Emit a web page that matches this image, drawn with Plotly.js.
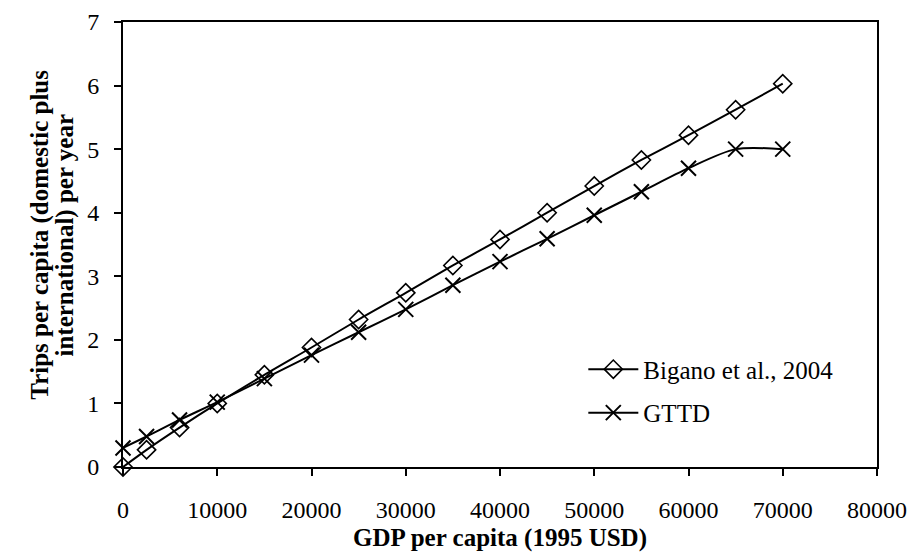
<!DOCTYPE html>
<html>
<head>
<meta charset="utf-8">
<script src="https://cdn.plot.ly/plotly-3.0.1.min.js"></script>
<style>html,body{margin:0;padding:0;background:#fff;}#chart{width:913px;height:552px;}</style>
</head>
<body>
<div id="chart"></div>
<script>
const gdp = [0, 2500, 6000, 10000, 15000, 20000, 25000, 30000, 35000, 40000, 45000, 50000, 55000, 60000, 65000, 70000];
const bigano = [0, 0.27, 0.62, 1.0, 1.45, 1.88, 2.32, 2.74, 3.17, 3.58, 4.0, 4.42, 4.83, 5.22, 5.62, 6.03];
const gttd = [0.3, 0.48, 0.74, 1.02, 1.39, 1.76, 2.12, 2.48, 2.86, 3.23, 3.59, 3.96, 4.33, 4.7, 5.0, 5.0];
const seriesNames = ["Bigano et al., 2004", "GTTD"];
const xTicks = [0, 10000, 20000, 30000, 40000, 50000, 60000, 70000, 80000];
const yTicks = [0, 1, 2, 3, 4, 5, 6, 7];
const yTitleLines = ["Trips per capita (domestic plus", "international) per year"];

const FONT = '"Liberation Serif", "Times New Roman", serif';

const traces = [
  {
    x: gdp, y: bigano, name: seriesNames[0], type: "scatter", mode: "lines+markers",
    legendgroup: "a",
    line: {color: "#000", width: 2, shape: "spline", smoothing: 0.8},
    marker: {symbol: "diamond-open", size: 14, color: "#000", line: {width: 1.6, color: "#000"}},
    cliponaxis: false
  },
  {
    x: gdp, y: gttd, name: seriesNames[1], type: "scatter", mode: "lines+markers",
    legendgroup: "b",
    line: {color: "#000", width: 2, shape: "spline", smoothing: 0.8},
    marker: {symbol: "x-thin-open", size: 15, color: "#000", line: {width: 2, color: "#000"}},
    cliponaxis: false
  }
];

const layout = {
  width: 913, height: 552,
  margin: {l: 123, r: 36, t: 22, b: 85, pad: 0},
  paper_bgcolor: "#fff", plot_bgcolor: "#fff",
  font: {family: FONT, size: 24, color: "#000"},
  showlegend: true,
  legend: {
    x: 0.6105, y: 0.171, xanchor: "left", yanchor: "middle",
    font: {family: FONT, size: 25, color: "#000"},
    bgcolor: "rgba(0,0,0,0)", borderwidth: 0,
    traceorder: "grouped", tracegroupgap: 8,
    itemwidth: 50
  },
  xaxis: {
    range: [0, 80000], tickvals: xTicks, ticktext: xTicks.map(String),
    showgrid: false, zeroline: false,
    showline: true, linecolor: "#000", linewidth: 2, mirror: true,
    ticks: "outside", ticklen: 7, tickwidth: 2, tickcolor: "#000",
    ticklabelstandoff: 13,
    tickfont: {family: FONT, size: 24, color: "#000"},
    title: {text: "<b>GDP per capita (1995 USD)</b>", font: {family: FONT, size: 25, color: "#000"}, standoff: 18}
  },
  yaxis: {
    range: [0, 7], tickvals: yTicks, ticktext: yTicks.map(String),
    showgrid: false, zeroline: false,
    showline: true, linecolor: "#000", linewidth: 2, mirror: true,
    ticks: "outside", ticklen: 7, tickwidth: 2, tickcolor: "#000",
    ticklabelstandoff: 10,
    tickfont: {family: FONT, size: 24, color: "#000"}
  },
  annotations: [
    {text: "<b>" + yTitleLines[0] + "</b>", xref: "paper", yref: "paper", x: -0.1094, y: 0.521,
     xanchor: "center", yanchor: "middle", textangle: -90, showarrow: false,
     font: {family: FONT, size: 25, color: "#000"}},
    {text: "<b>" + yTitleLines[1] + "</b>", xref: "paper", yref: "paper", x: -0.0764, y: 0.521,
     xanchor: "center", yanchor: "middle", textangle: -90, showarrow: false,
     font: {family: FONT, size: 25, color: "#000"}}
  ]
};

Plotly.newPlot("chart", traces, layout, {staticPlot: true, displayModeBar: false});
</script>
</body>
</html>
